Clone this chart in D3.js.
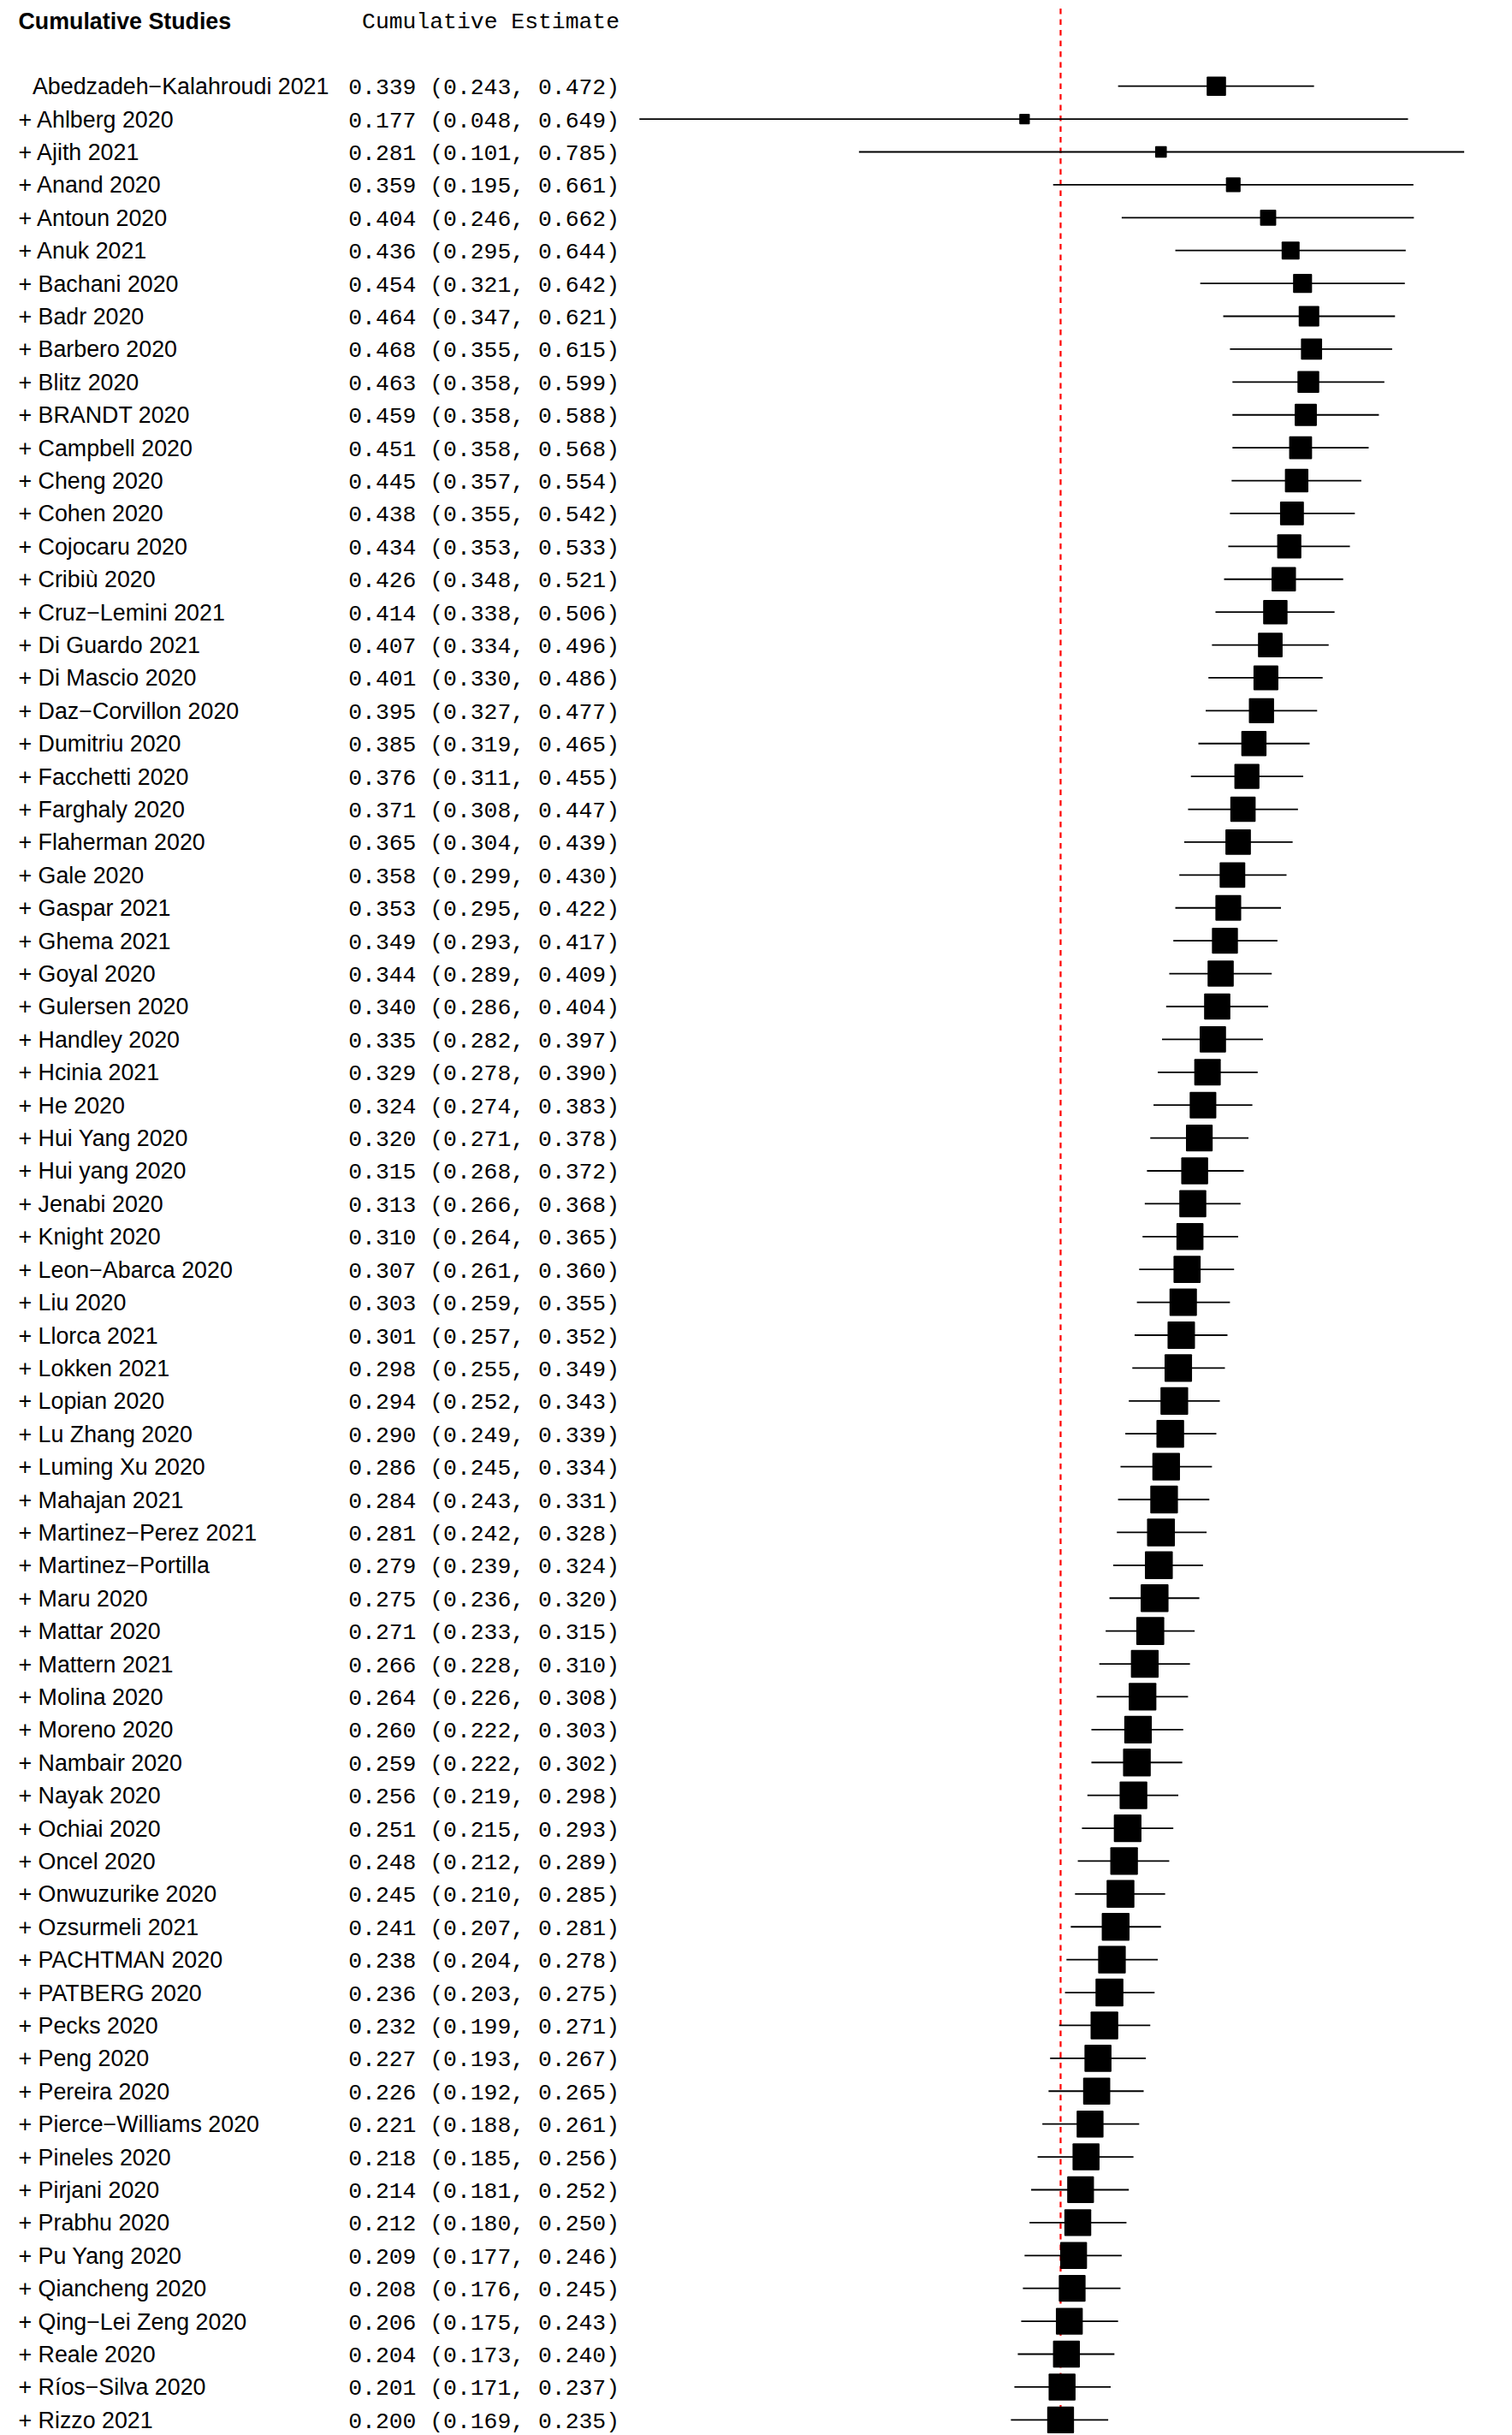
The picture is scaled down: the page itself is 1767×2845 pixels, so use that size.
<!DOCTYPE html>
<html>
<head>
<meta charset="utf-8">
<script src="https://cdn.jsdelivr.net/npm/d3@7"></script>
<style>
  html, body { margin: 0; padding: 0; background: #fff; }
  svg { display: block; }
</style>
</head>
<body>
<div id="chart"></div>
<script>
// ---------------- data ----------------
const studies = [
  "Abedzadeh-Kalahroudi 2021", "Ahlberg 2020", "Ajith 2021", "Anand 2020", "Antoun 2020",
  "Anuk 2021", "Bachani 2020", "Badr 2020", "Barbero 2020", "Blitz 2020",
  "BRANDT 2020", "Campbell 2020", "Cheng 2020", "Cohen 2020", "Cojocaru 2020",
  "Cribiù 2020", "Cruz-Lemini 2021", "Di Guardo 2021", "Di Mascio 2020", "Daz-Corvillon 2020",
  "Dumitriu 2020", "Facchetti 2020", "Farghaly 2020", "Flaherman 2020", "Gale 2020",
  "Gaspar 2021", "Ghema 2021", "Goyal 2020", "Gulersen 2020", "Handley 2020",
  "Hcinia 2021", "He 2020", "Hui Yang 2020", "Hui yang 2020", "Jenabi 2020",
  "Knight 2020", "Leon-Abarca 2020", "Liu 2020", "Llorca 2021", "Lokken 2021",
  "Lopian 2020", "Lu Zhang 2020", "Luming Xu 2020", "Mahajan 2021", "Martinez-Perez 2021",
  "Martinez-Portilla", "Maru 2020", "Mattar 2020", "Mattern 2021", "Molina 2020",
  "Moreno 2020", "Nambair 2020", "Nayak 2020", "Ochiai 2020", "Oncel 2020",
  "Onwuzurike 2020", "Ozsurmeli 2021", "PACHTMAN 2020", "PATBERG 2020", "Pecks 2020",
  "Peng 2020", "Pereira 2020", "Pierce-Williams 2020", "Pineles 2020", "Pirjani 2020",
  "Prabhu 2020", "Pu Yang 2020", "Qiancheng 2020", "Qing-Lei Zeng 2020", "Reale 2020",
  "Ríos-Silva 2020", "Rizzo 2021"
];
const estimate = [
  0.339, 0.177, 0.281, 0.359, 0.404, 0.436, 0.454, 0.464, 0.468, 0.463,
  0.459, 0.451, 0.445, 0.438, 0.434, 0.426, 0.414, 0.407, 0.401, 0.395,
  0.385, 0.376, 0.371, 0.365, 0.358, 0.353, 0.349, 0.344, 0.340, 0.335,
  0.329, 0.324, 0.320, 0.315, 0.313, 0.310, 0.307, 0.303, 0.301, 0.298,
  0.294, 0.290, 0.286, 0.284, 0.281, 0.279, 0.275, 0.271, 0.266, 0.264,
  0.260, 0.259, 0.256, 0.251, 0.248, 0.245, 0.241, 0.238, 0.236, 0.232,
  0.227, 0.226, 0.221, 0.218, 0.214, 0.212, 0.209, 0.208, 0.206, 0.204,
  0.201, 0.200
];
const lower = [
  0.243, 0.048, 0.101, 0.195, 0.246, 0.295, 0.321, 0.347, 0.355, 0.358,
  0.358, 0.358, 0.357, 0.355, 0.353, 0.348, 0.338, 0.334, 0.330, 0.327,
  0.319, 0.311, 0.308, 0.304, 0.299, 0.295, 0.293, 0.289, 0.286, 0.282,
  0.278, 0.274, 0.271, 0.268, 0.266, 0.264, 0.261, 0.259, 0.257, 0.255,
  0.252, 0.249, 0.245, 0.243, 0.242, 0.239, 0.236, 0.233, 0.228, 0.226,
  0.222, 0.222, 0.219, 0.215, 0.212, 0.210, 0.207, 0.204, 0.203, 0.199,
  0.193, 0.192, 0.188, 0.185, 0.181, 0.180, 0.177, 0.176, 0.175, 0.173,
  0.171, 0.169
];
const upper = [
  0.472, 0.649, 0.785, 0.661, 0.662, 0.644, 0.642, 0.621, 0.615, 0.599,
  0.588, 0.568, 0.554, 0.542, 0.533, 0.521, 0.506, 0.496, 0.486, 0.477,
  0.465, 0.455, 0.447, 0.439, 0.430, 0.422, 0.417, 0.409, 0.404, 0.397,
  0.390, 0.383, 0.378, 0.372, 0.368, 0.365, 0.360, 0.355, 0.352, 0.349,
  0.343, 0.339, 0.334, 0.331, 0.328, 0.324, 0.320, 0.315, 0.310, 0.308,
  0.303, 0.302, 0.298, 0.293, 0.289, 0.285, 0.281, 0.278, 0.275, 0.271,
  0.267, 0.265, 0.261, 0.256, 0.252, 0.250, 0.246, 0.245, 0.243, 0.240,
  0.237, 0.235
];
const headerStudies = "Cumulative Studies";
const headerEstimate = "Cumulative Estimate";
const refValue = 0.200;

// ---------------- layout ----------------
const W = 1767, H = 2845;
const svg = d3.select("#chart").append("svg")
  .attr("width", W).attr("height", H)
  .attr("viewBox", `0 0 ${W} ${H}`);
svg.append("rect").attr("width", W).attr("height", H).attr("fill", "#fff");

const x = d3.scaleLog().domain([0.1, 1]).range([1000.4, 1794.6]);
const y = d3.scaleLinear().domain([0, studies.length - 1]).range([100.7, 2827.3]);
// box side from precision weight (1 / log-CI width), sqrt-mapped
const boxScale = d3.scaleLinear().domain([0, 1]).range([1.8, 18.76]);

const rows = studies.map((s, i) => ({
  i, name: s, est: estimate[i], lo: lower[i], hi: upper[i],
  w: 1 / (Math.log(upper[i]) - Math.log(lower[i]))
}));

const sans = "'Liberation Sans', Arial, Helvetica, sans-serif";
const mono = "'Liberation Mono', 'Courier New', Courier, monospace";
const fs = 26.8;
const fm = 26.4;

// headers
svg.append("text")
  .attr("x", 21.5).attr("y", 34)
  .attr("font-family", sans).attr("font-weight", "bold").attr("font-size", fs)
  .attr("fill", "#000").text(headerStudies);
svg.append("text")
  .attr("x", 724).attr("y", 33)
  .attr("text-anchor", "end")
  .attr("font-family", mono).attr("font-size", fm)
  .attr("fill", "#000").text(headerEstimate);

// reference line
svg.append("line")
  .attr("x1", x(refValue)).attr("x2", x(refValue))
  .attr("y1", 10).attr("y2", H)
  .attr("stroke", "#ff0000").attr("stroke-width", 2.2)
  .attr("stroke-dasharray", "6.5,6");

// labels
svg.append("g").selectAll("text").data(rows).join("text")
  .attr("x", d => d.i === 0 ? 38 : 21.5)
  .attr("y", d => y(d.i) + 9.5)
  .attr("font-family", sans).attr("font-size", fs).attr("fill", "#000")
  .style("white-space", "pre")
  .text(d => (d.i === 0 ? "" : "+ ") + d.name.replace(/-/g, "\u2212"));

// estimate text
const f3 = d3.format(".3f");
svg.append("g").selectAll("text").data(rows).join("text")
  .attr("x", 724)
  .attr("y", d => y(d.i) + 9.5)
  .attr("text-anchor", "end")
  .attr("font-family", mono).attr("font-size", fm).attr("fill", "#000")
  .style("white-space", "pre")
  .text(d => `${f3(d.est)} (${f3(d.lo)}, ${f3(d.hi)})`);

// CI lines
svg.append("g").selectAll("line").data(rows).join("line")
  .attr("x1", d => x(d.lo)).attr("x2", d => x(d.hi))
  .attr("y1", d => y(d.i)).attr("y2", d => y(d.i))
  .attr("stroke", "#000").attr("stroke-width", 1.8);

// boxes
svg.append("g").selectAll("rect").data(rows).join("rect")
  .attr("x", d => x(d.est) - boxScale(Math.sqrt(d.w)) / 2)
  .attr("y", d => y(d.i) - boxScale(Math.sqrt(d.w)) / 2)
  .attr("width", d => boxScale(Math.sqrt(d.w)))
  .attr("height", d => boxScale(Math.sqrt(d.w)))
  .attr("rx", 1)
  .attr("fill", "#000");
</script>
</body>
</html>
